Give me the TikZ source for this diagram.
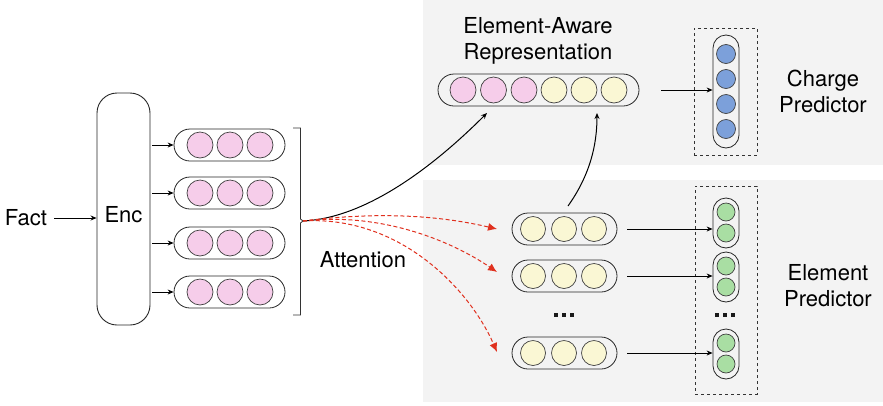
\documentclass[tikz,border=0pt]{standalone}
\usepackage{fontspec}
\setmainfont{TeX Gyre Heros}
\usetikzlibrary{arrows.meta}
\definecolor{bgpanel}{HTML}{F3F3F3}
\definecolor{pinkc}{HTML}{F6CDEA}
\definecolor{yelc}{HTML}{FAF7D4}
\definecolor{grnc}{HTML}{A9DEA3}
\definecolor{bluc}{HTML}{7CA0DA}
\definecolor{redar}{HTML}{E0301E}
\begin{document}
\begin{tikzpicture}[x=1pt,y=-1pt,
  lbl/.style={font=\fontsize{22}{26}\selectfont, align=center, inner sep=0pt},
  hcap/.style={draw=black!85, line width=0.8pt, rounded corners=16pt, minimum height=32pt, inner sep=0pt},
  vcap/.style={draw=black!85, line width=0.8pt, rounded corners=13pt, minimum width=26pt, inner sep=0pt},
  dot/.style={circle, draw=black!75, line width=0.7pt, inner sep=0pt},
  pdot/.style={dot, fill=pinkc, minimum size=26pt},
  ydot/.style={dot, fill=yelc, minimum size=25pt},
  gdot/.style={dot, fill=grnc, minimum size=18pt},
  bdot/.style={dot, fill=bluc, minimum size=19pt},
  dbox/.style={draw=black!80, dashed, line width=0.7pt, inner sep=0pt},
  ellip/.style={fill=black!90, minimum size=4.5pt, inner sep=0pt},
  arr/.style={-{Stealth[length=6pt,width=5pt]}, line width=0.8pt},
  rarr/.style={-{Latex[length=9pt,width=8pt]}, draw=redar, line width=1pt, dash pattern=on 4pt off 2.5pt}
]
\useasboundingbox (0,0) rectangle (883,405);
% panels
\fill[bgpanel] (423,0) rectangle (883,165);
\fill[bgpanel] (423,180) rectangle (883,402);

% Fact and encoder
\node[lbl] (fact) at (26,218) {Fact};
\node[draw=black!85, line width=0.9pt, rounded corners=20pt, minimum width=53pt, minimum height=232pt, inner sep=0pt] (enc) at (123.5,209) {};
\node[lbl] (enct) at (123.5,215) {Enc};
\coordinate (fa) at ([xshift=7pt]fact.east);
\draw[arr] (fa) -- (enc.west |- fa);

% pink capsules
\foreach \i/\y in {1/145,2/193,3/243,4/292}{
  \node[hcap, minimum width=111pt] (p\i) at (229.5,\y) {};
  \node[pdot] at (200,\y) {};
  \node[pdot] at (230,\y) {};
  \node[pdot] at (260,\y) {};
  \coordinate (e\i) at (enc.east |- p\i);
  \draw[arr] ([xshift=2pt]e\i) -- (p\i.west);
}

% bracket
\coordinate (br) at (303,221);
\draw[line width=0.8pt, black!80] (293,128) -- (300.5,128) -- (300.5,219) -- (br) -- (300.5,223) -- (300.5,315) -- (293,315);
\node[lbl] (att) at (363,260) {Attention};

% element-aware representation
\node[lbl] (rep) at (538,41) {Element-Aware\\Representation};
\node[hcap, minimum width=201pt] (rcap) at (538.5,90) {};
\foreach \x in {463,493.5,524}{\node[pdot] at (\x,90) {};}
\foreach \x in {554,584,614}{\node[ydot, minimum size=26pt] at (\x,90) {};}

% charge predictor
\node[dbox, minimum width=63pt, minimum height=127pt] (cbox) at (725.5,91.5) {};
\node[vcap, minimum height=113pt] (ccap) at (726,91.5) {};
\foreach \y in {54,79,104,129}{\node[bdot] at (726,\y) {};}
\node[lbl] (clbl) at (823,91) {Charge\\Predictor};
\coordinate (rs) at (661,90);
\draw[arr] (rs) -- (ccap.west |- rs);

% element capsules (yellow)
\foreach \i/\y in {1/229,2/276,3/353}{
  \node[hcap, minimum width=105pt] (y\i) at (564.5,\y) {};
  \node[ydot] at (533,\y) {};
  \node[ydot] at (564,\y) {};
  \node[ydot] at (594,\y) {};
}
\foreach \x in {556,564,572}{\node[ellip] at (\x,315) {};}

% element predictor
\node[dbox, minimum width=62pt, minimum height=208pt] (ebox) at (726,290) {};
\node[vcap, minimum height=50pt] (g1) at (726,223) {};
\node[vcap, minimum height=50pt] (g2) at (726,277) {};
\node[vcap, minimum height=50pt] (g3) at (726,354) {};
\foreach \y in {212,233,266,287,343,364}{\node[gdot] at (726,\y) {};}
\foreach \x in {717,725,733}{\node[ellip] at (\x,315) {};}
\node[lbl] (elbl) at (828,286) {Element\\Predictor};
\foreach \i in {1,2,3}{
  \coordinate (ys\i) at ([xshift=10pt]y\i.east);
  \draw[arr] (ys\i) -- (g\i.west |- ys\i);
}

% attention arrows
\coordinate (t0) at (487,113);
\coordinate (t1) at (497,229);
\coordinate (t2) at (497,272);
\coordinate (t3) at (497,352);
\draw[arr, line width=1pt] (br) .. controls (370,218) and (440,160) .. (t0);
\draw[rarr] (br) .. controls (390,210) and (450,218) .. (t1);
\draw[rarr] (br) .. controls (380,212) and (450,240) .. (t2);
\draw[rarr] (br) .. controls (400,215) and (470,290) .. (t3);
\coordinate (yt) at (568,206);
\draw[arr, line width=1pt] (yt) .. controls (590,175) and (597,145) .. (597,113);
\end{tikzpicture}
\end{document}
